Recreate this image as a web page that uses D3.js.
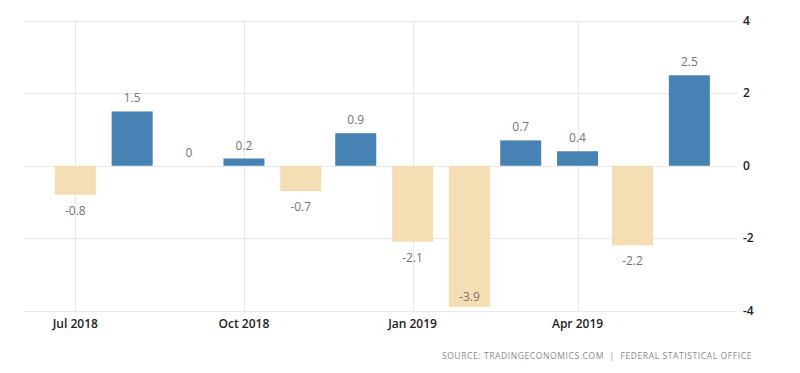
<!DOCTYPE html>
<html>
<head>
<meta charset="utf-8">
<script src="https://cdn.jsdelivr.net/npm/d3@7"></script>
<style>
  body { margin: 0; background: #fff; }
  svg { display: block; font-family: "Open Sans", "Noto Sans", sans-serif; }
  .grid line { stroke: #e8e8e8; stroke-width: 1; }
  .axis text { fill: #222; font-size: 12px; font-weight: 600; }
  .val { fill: #757575; font-size: 12px; }
  .source { fill: #8a8a8a; font-size: 8.5px; letter-spacing: 0.6px; }
</style>
</head>
<body>
<div id="chart"></div>
<script>
// monthly change, Jul 2018 - Jun 2019
const months = ["2018-07", "2018-08", "2018-09", "2018-10", "2018-11", "2018-12",
                "2019-01", "2019-02", "2019-03", "2019-04", "2019-05", "2019-06"];
const values = [-0.8, 1.5, 0, 0.2, -0.7, 0.9, -2.1, -3.9, 0.7, 0.4, -2.2, 2.5];
const yTicks = [-4, -2, 0, 2, 4];
const xTicks = ["2018-07", "2018-10", "2019-01", "2019-04"];
const source = "SOURCE: TRADINGECONOMICS.COM  |  FEDERAL STATISTICAL OFFICE";

const width = 800, height = 373;
const plot = {left: 24, right: 737, top: 21, bottom: 310.5};
const parse = d3.timeParse("%Y-%m");

const svg = d3.select("#chart").append("svg")
    .attr("width", width)
    .attr("height", height);

const x = d3.scaleTime()
    .domain([new Date(2018, 5, 3), new Date(2019, 5, 27)])
    .range([plot.left, plot.right]);

const y = d3.scaleLinear()
    .domain([-4, 4])
    .range([plot.bottom, plot.top]);

// horizontal grid
svg.append("g").attr("class", "grid")
  .selectAll("line").data(yTicks).enter().append("line")
    .attr("x1", plot.left)
    .attr("x2", plot.right)
    .attr("y1", d => Math.round(y(d)) + 0.5)
    .attr("y2", d => Math.round(y(d)) + 0.5);

// vertical grid at quarter ticks
svg.append("g").attr("class", "grid")
  .selectAll("line").data(xTicks).enter().append("line")
    .attr("x1", d => Math.round(x(parse(d))) + 0.5)
    .attr("x2", d => Math.round(x(parse(d))) + 0.5)
    .attr("y1", plot.top)
    .attr("y2", plot.bottom + 2);

// bars
const barW = 41;
svg.append("g")
  .selectAll("rect").data(values).enter().append("rect")
    .attr("x", (d, i) => x(parse(months[i])) - barW / 2)
    .attr("width", barW)
    .attr("y", d => y(Math.max(0, d)))
    .attr("height", d => Math.abs(y(d) - y(0)))
    .attr("fill", d => d >= 0 ? "#4682b4" : "#f5deb3");

// value labels
svg.append("g")
  .selectAll("text").data(values).enter().append("text")
    .attr("class", "val")
    .attr("text-anchor", "middle")
    .attr("x", (d, i) => x(parse(months[i])))
    .attr("y", d => {
      if (d >= 0) return y(d) - 9;
      let ty = y(d) + 20;
      // keep inside the plot when the bar reaches the bottom
      if (ty > plot.bottom) ty = y(d) - 6;
      return ty;
    })
    .text(d => d);

// y axis labels on the right
svg.append("g").attr("class", "axis")
  .selectAll("text").data(yTicks).enter().append("text")
    .attr("x", 743)
    .attr("y", d => y(d) + 4)
    .text(d => d);

// x axis labels
svg.append("g").attr("class", "axis")
  .selectAll("text").data(xTicks).enter().append("text")
    .attr("text-anchor", "middle")
    .attr("x", d => x(parse(d)))
    .attr("y", 328)
    .text(d => d3.timeFormat("%b %Y")(parse(d)));

svg.append("text")
    .attr("class", "source")
    .attr("text-anchor", "end")
    .attr("x", 752)
    .attr("y", 359)
    .attr("xml:space", "preserve")
    .text(source);
</script>
</body>
</html>
